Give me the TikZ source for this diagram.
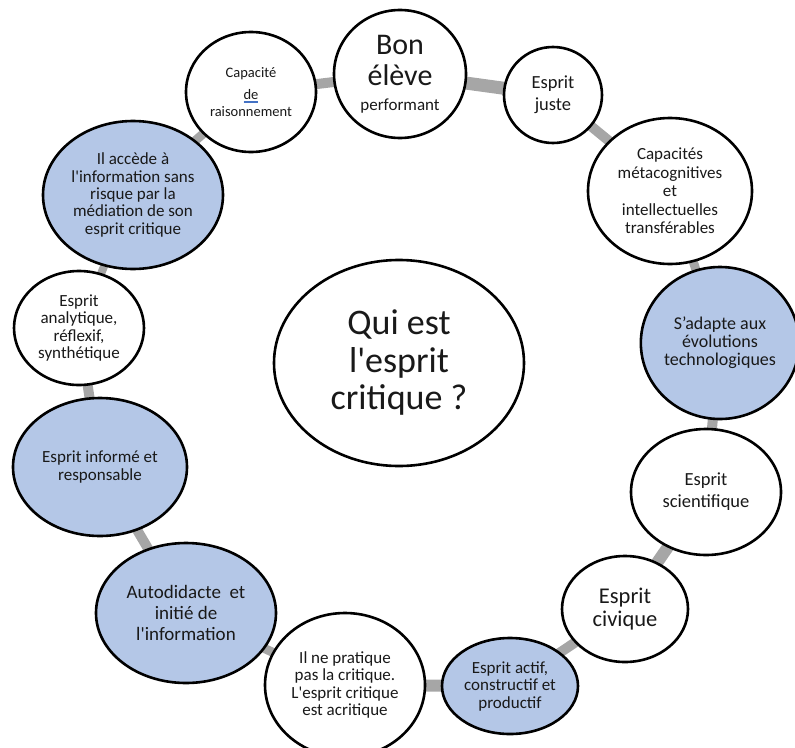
\documentclass[tikz,border=0pt]{standalone}
\usepackage{fontspec}
\setmainfont{Carlito}[Ligatures=TeXOff]
\usetikzlibrary{shapes.geometric,backgrounds}
\definecolor{bubbleblue}{HTML}{B4C7E7}
\definecolor{ringgray}{HTML}{A6A6A6}
\definecolor{markblue}{HTML}{4472C4}
\newcommand*{\fs}[2]{\fontsize{#1}{#2}\selectfont}
\newcommand*{\marked}[1]{\setbox0\hbox{#1}%
  \rlap{\textcolor{markblue}{\rule[-2.2pt]{\wd0}{0.8pt}}}%
  \rlap{\textcolor{markblue}{\rule[-3.8pt]{\wd0}{0.8pt}}}\box0}

\begin{document}
\begin{tikzpicture}[x=1pt,y=-1pt,
    bubble/.style={ellipse,draw,line width=2.6pt,fill=white,inner sep=0pt,
      align=center,text=black!90,font=\fs{17}{17.5}},
    bluebubble/.style={bubble,fill=bubbleblue},
    ring/.style={color=ringgray,line width=10pt}]
    \useasboundingbox (0,0) rectangle (795,747);
    % centre
    \node[bubble,minimum width=250,minimum height=206,font=\fs{36}{37.5}] (qui) at (399,363) {Qui est\\l'esprit\\critique ?};
    % ring, clockwise from the top
    \node[bubble,minimum width=132,minimum height=128,font=\fs{30}{31}] (bon) at (400,74) {Bon\\élève\\[-6pt]\fontsize{17}{31}\selectfont performant};
    \node[bubble,minimum width=98,minimum height=96,font=\fs{18.5}{22}] (juste) at (553,95) {Esprit\\juste};
    \node[bubble,minimum width=164,minimum height=146,font=\fs{17}{18.5}] (meta) at (670,191) {Capacités\\métacognitives\\et\\intellectuelles\\transférables};
    \node[bluebubble,minimum width=156,minimum height=152,font=\fs{18}{18}] (adapte) at (720,343) {S’adapte aux\\évolutions\\technologiques};
    \node[bubble,minimum width=150,minimum height=126,font=\fs{18.5}{22}] (scient) at (706,492) {Esprit\\scientifique};
    \node[bubble,minimum width=126,minimum height=106,font=\fs{22.5}{23}] (civique) at (625,609) {Esprit\\civique};
    \node[bluebubble,minimum width=136,minimum height=96] (actif) at (510,686) {Esprit actif,\\constructif et\\productif};
    \node[bubble,minimum width=160,minimum height=144] (acrit) at (345,685) {Il ne pratique\\pas la critique.\\L'esprit critique\\est acritique};
    \node[bluebubble,minimum width=180,minimum height=140,font=\fs{19}{21}] (autodid) at (186,613) {Autodidacte\ \ et\\initié de\\l'information};
    \node[bluebubble,minimum width=174,minimum height=138] (informe) at (100,467) {Esprit informé et\\responsable};
    \node[bubble,minimum width=130,minimum height=114] (analyt) at (79,328) {Esprit\\analytique,\\réflexif,\\synthétique};
    \node[bluebubble,minimum width=180,minimum height=148,font=\fs{17}{17.3}] (accede) at (133,195) {Il accède à\\l'information sans\\risque par la\\médiation de son\\esprit critique};
    \node[bubble,minimum width=130,minimum height=120,font=\fs{14.5}{17}] (raison) at (251,92) {Capacité\\[5pt]\marked{de}\\raisonnement};
    % grey ring behind the bubbles
    \begin{pgfonlayer}{background}
    \path[ring]
    (bon.center) edge[line width=13pt] (juste.center)
    (juste.center) edge (meta.center)
    (meta.center) edge[line width=9pt] (adapte.center)
    (adapte.center) edge (scient.center)
    (scient.center) edge[line width=12pt] (civique.center)
    (civique.center) edge (actif.center)
    (actif.center) edge[line width=12pt] (acrit.center)
    (acrit.center) edge[line width=9pt] (autodid.center)
    (autodid.center) edge (informe.center)
    (informe.center) edge (analyt.center)
    (analyt.center) edge[line width=8pt] (accede.center)
    (accede.center) edge[line width=9pt] (raison.center)
    (raison.center) edge (bon.center);
    \end{pgfonlayer}
\end{tikzpicture}
\end{document}
